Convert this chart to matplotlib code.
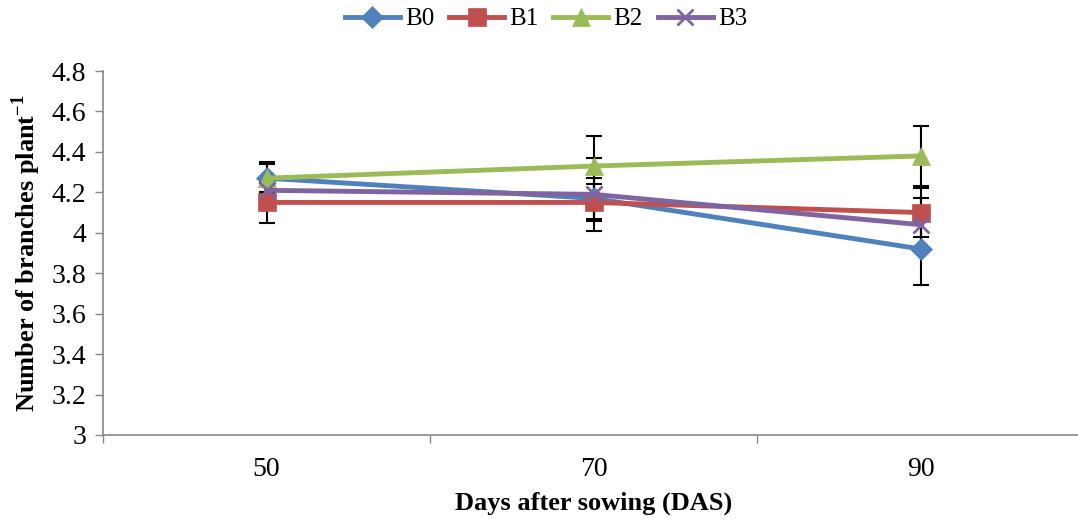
import matplotlib
matplotlib.use("Agg")
import matplotlib.pyplot as plt
import numpy as np

plt.rcParams['font.family'] = ['Liberation Serif', 'DejaVu Serif']
plt.rcParams['mathtext.fontset'] = 'custom'
plt.rcParams['mathtext.rm'] = 'Liberation Serif'
plt.rcParams['mathtext.bf'] = 'Liberation Serif:bold'

categories = ['50', '70', '90']
series_names = ['B0', 'B1', 'B2', 'B3']
b0 = [4.27, 4.17, 3.92]
b1 = [4.15, 4.15, 4.10]
b2 = [4.27, 4.33, 4.38]
b3 = [4.21, 4.19, 4.04]
b0_err = [0.08, 0.10, 0.18]
b1_err = [0.10, 0.09, 0.12]
b2_err = [0.07, 0.15, 0.15]
b3_err = [0.05, 0.18, 0.13]
y_ticks = [3, 3.2, 3.4, 3.6, 3.8, 4, 4.2, 4.4, 4.6, 4.8]
y_tick_labels = ['3', '3.2', '3.4', '3.6', '3.8', '4', '4.2', '4.4', '4.6', '4.8']

values = [b0, b1, b2, b3]
errors = [b0_err, b1_err, b2_err, b3_err]
colors = ['#4F81BD', '#C0504D', '#9BBB59', '#8064A2']
markers = ['D', 's', '^', 'x']
msizes = [11, 13, 13, 12]

fig = plt.figure(figsize=(10.78, 5.22), dpi=100)
ax = fig.add_axes([103/1078, 87/522, (1084-103)/1078, (435-71)/522])

x = np.arange(len(categories))
for v, e in zip(values, errors):
    ax.errorbar(x, v, yerr=e, fmt='none', ecolor='black', elinewidth=1.5,
                capsize=6, capthick=1.5, zorder=1)
handles = []
for name, v, c, m, ms in zip(series_names, values, colors, markers, msizes):
    h, = ax.plot(x, v, color=c, lw=3.5, marker=m, markersize=ms,
                 markeredgewidth=2 if m == 'x' else 0.5, markeredgecolor=c,
                 markerfacecolor=c, label=name, zorder=3)
    handles.append(h)

ax.set_xlim(-0.5, 2.5)
ax.set_ylim(3, 4.8)
ax.set_yticks(y_ticks)
ax.set_yticklabels(y_tick_labels, fontsize=20)
ax.set_xticks(x)
ax.set_xticklabels(categories, fontsize=20)
ax.tick_params(axis='x', length=0, pad=16)
ax.set_xticks([-0.5, 0.5, 1.5, 2.5], minor=True)
ax.tick_params(axis='x', which='minor', length=6, color='#868686', width=1)
ax.tick_params(axis='y', length=6, color='#868686', width=1, pad=6)
for s in ['top', 'right']:
    ax.spines[s].set_visible(False)
for s in ['left', 'bottom']:
    ax.spines[s].set_color('#868686')
    ax.spines[s].set_linewidth(1.2)

ax.set_xlabel('Days after sowing (DAS)', fontsize=19, fontweight='bold')
ax.xaxis.set_label_coords(0.5, (435 - 492) / 364)
ax.set_ylabel(r'Number of branches plant$^{\mathbf{-1}}$', fontsize=19, fontweight='bold', labelpad=6)

fig.legend(handles=handles, labels=series_names, loc='upper center',
           bbox_to_anchor=(546/1078, 1.028), ncol=4, frameon=False, fontsize=18,
           handlelength=2.2, columnspacing=0.6, handletextpad=0.2)

fig.savefig('out.png', dpi=100)
